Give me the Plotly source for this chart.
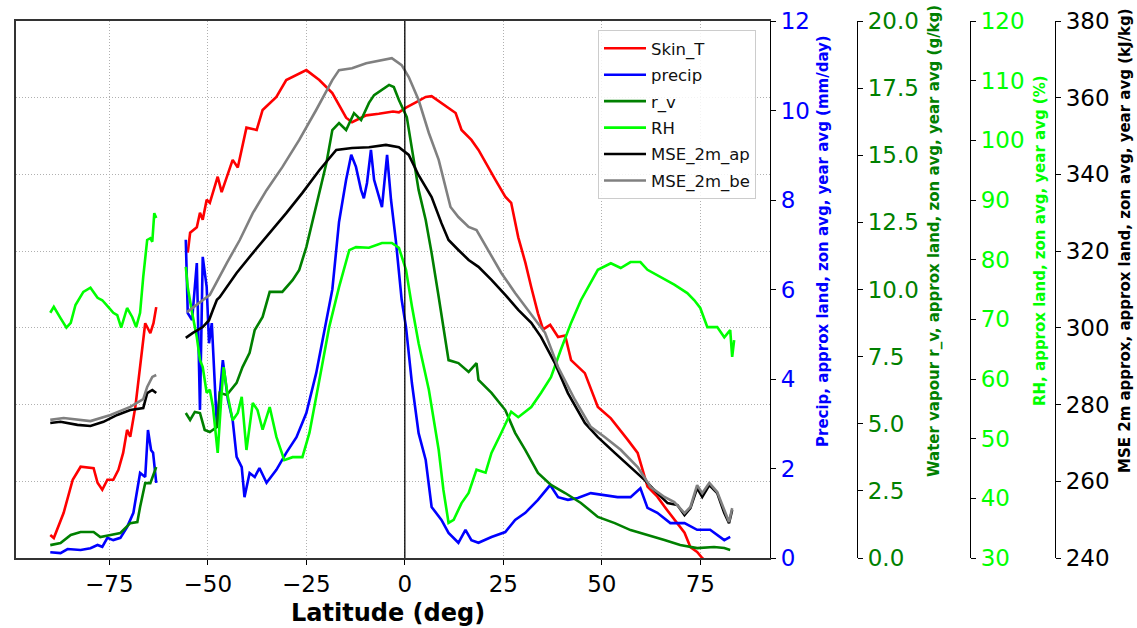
import plotly.graph_objects as go

# ---------------- data ----------------
# Antarctic segment
skin_lat_ant = [-90, -89.1, -86.6, -84.3, -82.3, -79.0, -78.0, -76.8, -75.5, -74.0, -72.7, -71.5, -70.5,
                -69.7, -68.4, -67.2, -65.9, -64.6, -63.8, -63.1]
skin_ant = [243.0, 242.6, 245.9, 250.2, 251.9, 251.7, 249.8, 248.9, 250.2, 250.2, 251.5, 253.7, 256.7,
            255.8, 259.7, 264.9, 270.6, 269.3, 270.6, 272.7]
skin_lat_main = [-55.1, -54.5, -52.8, -52.0, -51.3, -50.3, -49.5, -47.5, -46.5, -45.2, -43.7, -42.4, -40.2,
                 -37.6, -36.1, -32.6, -30.1, -25.0, -21.7, -18.4, -14.9, -13.4, -9.8, -6.6, -3.0, -1.5,
                 0.3, 2.8, 5.3, 6.8, 9.3, 12.9, 14.4, 16.9, 18.7, 20.5, 23.0, 25.5, 27.0, 28.8, 30.6,
                 32.1, 33.8, 35.1, 36.9, 38.9, 40.7, 42.2, 45.7, 49.0, 52.3, 56.6, 59.1, 61.6, 64.1,
                 65.9, 68.4, 71.0, 72.5, 74.2, 75.5, 76.5, 77.5]
skin_main = [279.8, 282.4, 283.1, 285.0, 284.1, 286.7, 286.3, 289.7, 287.7, 289.7, 291.9, 290.9, 296.1,
             295.8, 298.4, 300.1, 302.3, 303.6, 302.3, 300.6, 297.4, 296.8, 297.7, 297.9, 298.2, 298.1,
             298.7, 299.4, 300.1, 300.2, 299.3, 298.0, 295.8, 294.5, 293.2, 291.5, 289.3, 287.1, 286.3,
             281.8, 278.5, 275.3, 271.9, 269.8, 270.4, 268.8, 269.0, 265.8, 264.1, 259.7, 258.2, 255.4,
             253.7, 249.3, 248.0, 246.7, 245.0, 243.3, 241.4, 240.8, 240.0, 239.5, 238.5]

precip_lat_ant = [-90, -87.4, -85.6, -82.3, -79.8, -78.0, -76.8, -75.5, -74.0, -72.2, -70.5, -68.9, -67.2,
                  -65.9, -65.2, -64.4, -63.9, -63.1]
precip_ant = [0.13, 0.11, 0.20, 0.18, 0.22, 0.29, 0.25, 0.45, 0.40, 0.45, 0.69, 1.01, 1.90, 1.81, 2.86,
              2.41, 2.35, 1.68]
precip_lat_main = [-55.6, -55.1, -54.0, -52.8, -52.0, -51.3, -50.3, -49.7, -49.0, -47.7, -46.2, -44.9,
                   -43.7, -42.7, -41.4, -40.7, -39.4, -38.1, -36.9, -35.1, -32.6, -30.1, -27.5, -25.0,
                   -22.5, -19.9, -18.4, -16.7, -14.9, -13.6, -12.4, -11.1, -10.4, -9.6, -8.6, -7.8, -5.8,
                   -4.5, -3.5, -2.3, -0.8, 0.3, 1.8, 3.5, 5.3, 6.8, 9.3, 11.1, 13.6, 15.4, 16.9, 18.7,
                   22.0, 25.5, 28.0, 30.6, 33.8, 36.9, 38.9, 41.4, 43.9, 47.2, 50.8, 54.0, 57.3, 59.8,
                   61.6, 64.1, 67.4, 71.0, 74.2, 77.5, 81.1, 82.6]
precip_main = [7.11, 5.47, 5.32, 6.59, 3.31, 6.73, 6.06, 4.80, 5.25, 2.93, 4.42, 3.53, 3.08, 2.26, 2.03,
               1.36, 1.90, 1.81, 2.01, 1.68, 1.97, 2.35, 2.70, 3.24, 4.13, 5.32, 6.00, 7.51, 8.45, 9.01,
               8.74, 8.22, 8.04, 8.38, 9.12, 8.45, 7.84, 9.01, 8.00, 7.11, 5.77, 5.16, 3.91, 2.79, 2.19,
               1.14, 0.85, 0.56, 0.34, 0.63, 0.40, 0.34, 0.47, 0.58, 0.85, 1.01, 1.30, 1.63, 1.36, 1.30,
               1.34, 1.45, 1.41, 1.36, 1.36, 1.56, 1.12, 1.01, 0.78, 0.78, 0.63, 0.63, 0.40, 0.47]

rv_lat_ant = [-90, -87.4, -84.8, -82.3, -79.0, -77.3, -74.7, -72.2, -69.7, -67.9, -67.2, -65.9, -64.6, -63.1]
rv_ant = [0.48, 0.56, 0.86, 0.97, 0.97, 0.78, 0.86, 0.93, 1.30, 1.34, 1.90, 2.79, 2.79, 3.39]
rv_lat_main = [-55.6, -54.5, -53.3, -52.0, -50.8, -49.5, -47.7, -47.0, -45.2, -42.7, -41.2, -39.4, -38.1,
               -36.1, -34.3, -31.1, -28.5, -26.8, -25.0, -22.5, -19.9, -18.4, -16.7, -14.9, -12.9, -11.1,
               -9.1, -7.8, -5.8, -4.0, -2.8, -1.5, 0.5, 1.8, 3.5, 5.3, 6.8, 8.6, 9.8, 11.1, 13.6, 16.2,
               18.2, 18.7, 22.0, 25.5, 28.0, 30.6, 33.8, 37.1, 40.7, 44.7, 49.0, 53.3, 57.3, 61.6, 65.9,
               69.9, 74.2, 78.5, 81.1, 82.6]
rv_main = [5.40, 5.14, 5.44, 5.40, 4.77, 4.69, 4.88, 6.15, 6.07, 6.52, 7.11, 7.64, 8.49, 8.98, 9.91, 9.91,
           10.35, 10.73, 11.58, 13.07, 14.71, 15.94, 16.20, 15.94, 16.57, 16.31, 16.95, 17.24, 17.43,
           17.62, 17.54, 17.06, 16.42, 15.20, 13.71, 12.59, 11.36, 9.72, 8.64, 7.37, 7.26, 6.93, 7.26,
           6.63, 6.15, 5.51, 4.66, 4.02, 3.17, 2.72, 2.42, 2.05, 1.53, 1.30, 1.04, 0.86, 0.67, 0.48, 0.37,
           0.41, 0.37, 0.30]

rh_lat_ant = [-90, -89.1, -87.4, -85.9, -84.8, -83.6, -81.6, -79.8, -78.0, -76.8, -75.3, -74.0, -73.0,
              -72.0, -70.5, -69.2, -68.2, -67.2, -66.4, -65.4, -64.6, -64.1, -63.6, -63.1]
rh_ant = [71.1, 72.1, 70.2, 68.6, 69.4, 72.4, 74.6, 75.3, 73.6, 73.2, 72.1, 71.1, 70.7, 68.6, 71.9, 70.4,
          68.7, 71.1, 77.1, 83.3, 83.6, 83.0, 87.8, 87.0]
rh_lat_main = [-55.6, -55.1, -54.0, -52.8, -52.0, -51.3, -50.3, -49.5, -48.7, -47.5, -46.5, -46.0, -44.9,
               -43.7, -42.4, -41.4, -40.2, -38.6, -37.4, -36.1, -34.3, -32.6, -30.6, -28.5, -26.0, -24.2,
               -21.7, -19.2, -16.7, -14.1, -12.4, -9.1, -5.8, -3.3, -1.5, 0.3, 1.8, 3.5, 6.1, 8.6, 9.8,
               11.1, 12.4, 14.4, 16.2, 18.2, 20.5, 22.0, 24.5, 27.0, 28.8, 32.1, 34.6, 37.1, 39.6, 42.2,
               44.7, 46.5, 49.0, 52.3, 54.8, 57.3, 59.8, 61.6, 64.9, 68.4, 71.7, 73.5, 75.0, 76.8, 79.3,
               81.1, 82.6, 83.1, 83.6]
rh_main = [78.8, 75.4, 71.1, 67.0, 63.2, 62.0, 57.7, 58.2, 55.3, 47.6, 57.7, 62.0, 57.0, 53.1, 54.3, 57.0,
           48.1, 56.0, 54.8, 51.5, 55.3, 50.3, 46.4, 46.9, 46.9, 51.0, 59.8, 68.7, 75.4, 81.6, 82.1, 82.0,
           82.8, 82.8, 82.0, 78.3, 72.2, 66.0, 58.2, 48.1, 41.4, 35.9, 36.4, 39.2, 40.9, 44.8, 44.3, 47.6,
           51.0, 54.5, 53.6, 55.3, 57.7, 60.3, 64.9, 69.4, 73.2, 75.4, 78.3, 79.4, 78.6, 79.6, 79.6, 78.3,
           77.1, 75.8, 74.4, 73.2, 71.9, 68.7, 68.7, 67.0, 68.2, 63.7, 66.5]

mse_ap_lat_ant = [-90, -87.4, -83.1, -79.8, -76.5, -73.0, -69.7, -66.4, -65.4, -64.1, -63.1]
mse_ap_ant = [275.2, 275.5, 274.7, 274.4, 275.5, 277.3, 278.6, 279.1, 283.0, 283.8, 283.0]
mse_ap_lat_main = [-55.6, -53.8, -51.3, -49.7, -48.7, -47.7, -47.0, -44.4, -42.7, -38.6, -34.3, -30.1,
                   -26.0, -21.7, -17.4, -13.4, -9.1, -4.8, -1.5, 1.0, 3.5, 6.8, 9.3, 11.1, 13.6, 16.2,
                   18.7, 22.0, 25.5, 28.8, 32.1, 34.6, 38.1, 41.4, 45.7, 49.0, 53.3, 57.3, 60.9, 64.1,
                   66.7, 69.2, 71.0, 72.5, 74.2, 75.5, 77.3, 79.3, 81.1, 82.3, 83.1]
mse_ap_main = [297.4, 298.7, 300.2, 302.0, 304.7, 307.3, 308.0, 311.7, 314.3, 319.5, 324.7, 329.9, 335.2,
               341.1, 346.4, 346.9, 347.1, 347.7, 347.1, 345.1, 339.8, 334.1, 327.3, 322.9, 320.3, 317.7,
               315.9, 312.5, 308.6, 304.7, 301.3, 297.6, 290.8, 283.0, 275.2, 271.5, 267.4, 263.7, 260.3,
               256.9, 254.3, 253.8, 251.2, 253.0, 258.2, 255.9, 259.0, 256.9, 251.7, 249.1, 252.5]

mse_be_lat_ant = [-90, -86.6, -79.8, -74.7, -69.7, -66.4, -65.4, -64.1, -63.1]
mse_be_ant = [276.0, 276.5, 275.7, 277.3, 279.4, 281.4, 284.6, 287.2, 287.7]
mse_be_lat_main = [-55.3, -52.8, -49.5, -45.2, -41.9, -38.6, -35.1, -31.1, -26.8, -22.5, -18.4, -16.7,
                   -13.4, -9.8, -5.8, -3.3, -0.8, 1.0, 3.5, 6.1, 8.6, 10.4, 11.6, 13.6, 16.2, 18.2, 21.2,
                   24.5, 28.0, 31.3, 35.6, 38.9, 43.2, 47.2, 50.8, 54.8, 59.1, 62.4, 65.9, 68.4, 71.0,
                   72.5, 74.2, 75.5, 77.3, 79.3, 81.1, 82.3, 83.1]
mse_be_main = [304.1, 306.0, 308.6, 316.9, 322.9, 329.9, 335.9, 341.9, 349.0, 356.8, 364.6, 367.2, 367.7,
               369.0, 369.8, 370.3, 368.5, 365.4, 359.4, 350.8, 343.8, 336.7, 331.5, 328.9, 326.3, 325.5,
               320.3, 314.3, 309.1, 304.7, 298.7, 289.8, 281.2, 274.2, 271.5, 268.2, 263.7, 258.5, 255.9,
               254.6, 251.7, 253.3, 259.0, 256.9, 259.6, 257.2, 252.5, 249.4, 253.0]

x_ticks = [-75, -50, -25, 0, 25, 50, 75]
precip_ticks = [0, 2, 4, 6, 8, 10, 12]
rv_ticks = [0.0, 2.5, 5.0, 7.5, 10.0, 12.5, 15.0, 17.5, 20.0]
rh_ticks = [30, 40, 50, 60, 70, 80, 90, 100, 110, 120]
mse_ticks = [240, 260, 280, 300, 320, 340, 360, 380]


def join(a, b):
    return list(a) + [None] + list(b)


FONT = "DejaVu Sans"
fig = go.Figure()

series = [
    ("Skin_T", skin_lat_ant, skin_ant, skin_lat_main, skin_main, "#ff0000", "y"),
    ("precip", precip_lat_ant, precip_ant, precip_lat_main, precip_main, "#0000ff", "y2"),
    ("r_v", rv_lat_ant, rv_ant, rv_lat_main, rv_main, "#008000", "y3"),
    ("RH", rh_lat_ant, rh_ant, rh_lat_main, rh_main, "#00ff00", "y4"),
    ("MSE_2m_ap", mse_ap_lat_ant, mse_ap_ant, mse_ap_lat_main, mse_ap_main, "#000000", "y5"),
    ("MSE_2m_be", mse_be_lat_ant, mse_be_ant, mse_be_lat_main, mse_be_main, "#808080", "y5"),
]
for name, la, va, lm, vm, col, ax in series:
    fig.add_trace(go.Scatter(x=join(la, lm), y=join(va, vm), mode="lines", name=name,
                             line=dict(color=col, width=2.6), yaxis=ax, connectgaps=False,
                             legendgroup=name))

W, H = 1137, 628
ml, mr, mt, mb = 16, 5, 21, 70
pw = W - ml - mr
ph = H - mt - mb


def px_x(p):
    return (p - ml) / pw


def px_y(p):
    return (mt + ph - p) / ph


grid = dict(showgrid=True, gridcolor="#b0b0b0", griddash="1px,2px", gridwidth=1)
tick_common = dict(ticks="outside", ticklen=5, tickwidth=1.2, tickcolor="black",
                   showline=True, linecolor="black", linewidth=1.2, zeroline=False, showgrid=False)

fig.update_layout(
    width=W, height=H,
    margin=dict(l=ml, r=mr, t=mt, b=mb),
    paper_bgcolor="white", plot_bgcolor="white",
    font=dict(family=FONT, color="black"),
    showlegend=True,
    legend=dict(x=px_x(598), y=px_y(30), xanchor="left", yanchor="top",
                bgcolor="rgba(255,255,255,0.85)", bordercolor="#cccccc", borderwidth=1,
                font=dict(family=FONT, size=16.5, color="#111111"),
                traceorder="grouped", tracegroupgap=2, itemwidth=42),
    xaxis=dict(domain=[0, px_x(770)], range=[-98.7, 92.7], tickvals=x_ticks,
               tickfont=dict(size=23, family=FONT), ticks="outside", ticklen=5, tickcolor="black",
               showline=True, linecolor="#333333", linewidth=1.5, mirror=True, zeroline=False,
               anchor="y", **grid),
    yaxis=dict(range=[240, 310], dtick=10, showticklabels=False, ticks="", showline=True,
               linecolor="#333333", linewidth=1.5, zeroline=False, **grid),
    yaxis2=dict(overlaying="y", side="right", anchor="x", range=[0, 12], tickvals=precip_ticks,
                tickfont=dict(size=23, color="#0000ff", family=FONT), **tick_common),
    yaxis3=dict(overlaying="y", side="right", anchor="free", position=px_x(857), range=[0, 20],
                tickvals=rv_ticks, ticktext=[f"{v:.1f}" for v in rv_ticks],
                tickfont=dict(size=23, color="#008000", family=FONT), **tick_common),
    yaxis4=dict(overlaying="y", side="right", anchor="free", position=px_x(970), range=[30, 120],
                tickvals=rh_ticks, tickfont=dict(size=23, color="#00ff00", family=FONT), **tick_common),
    yaxis5=dict(overlaying="y", side="right", anchor="free", position=px_x(1055), range=[240, 380],
                tickvals=mse_ticks, tickfont=dict(size=23, color="black", family=FONT), **tick_common),
)

fig.add_shape(type="line", x0=0, x1=0, y0=0, y1=1, xref="x", yref="y domain",
              line=dict(color="black", width=1.3), layer="above")

titles = [
    ("Precip, approx land, zon avg, year avg (mm/day)", 823, "#0000ff"),
    ("Water vapour r_v, approx land, zon avg, year avg (g/kg)", 934, "#008000"),
    ("RH, approx land, zon avg, year avg (%)", 1040, "#00ff00"),
    ("MSE 2m approx, approx land, zon avg, year avg (kJ/kg)", 1125, "black"),
]
for text, xp, col in titles:
    fig.add_annotation(text=f"<b>{text}</b>", x=px_x(xp), y=px_y(241), xref="paper", yref="paper",
                       textangle=-90, showarrow=False, xanchor="center", yanchor="middle",
                       font=dict(size=15, color=col, family=FONT))

fig.add_annotation(text="<b>Latitude (deg)</b>", x=px_x(388), y=px_y(613), xref="paper", yref="paper",
                   showarrow=False, xanchor="center", yanchor="middle",
                   font=dict(size=24, color="black", family=FONT))

fig.write_html("out.html")
